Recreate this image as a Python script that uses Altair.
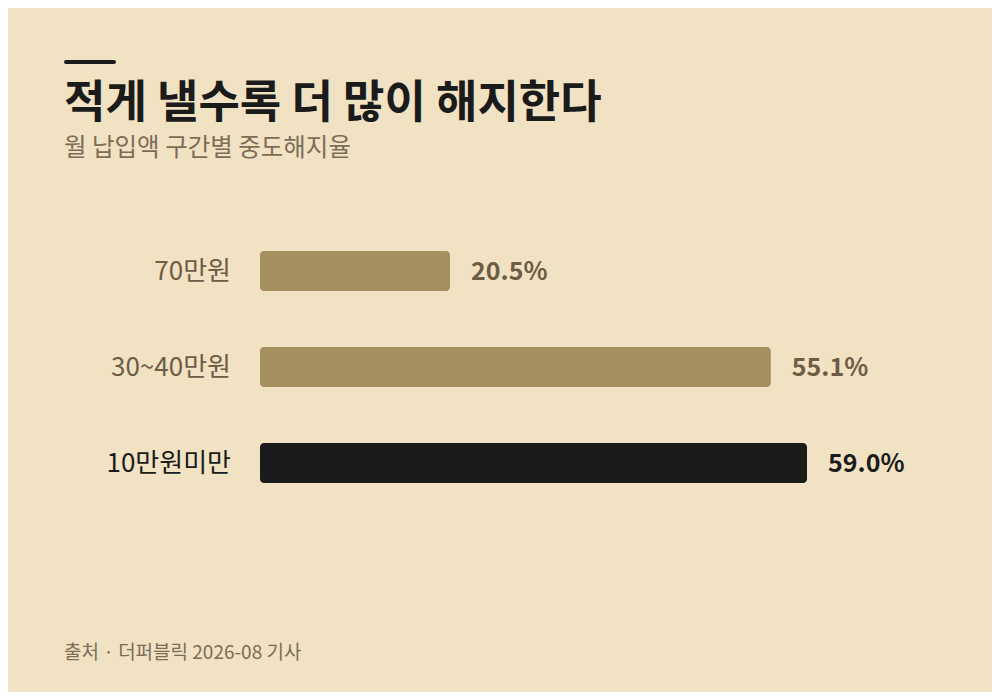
import altair as alt
import pandas as pd

# ---- data ----
categories = ["70만원", "30~40만원", "10만원미만"]
rates = [20.5, 55.1, 59.0]
highlight = [False, False, True]
value_labels = ["20.5%", "55.1%", "59.0%"]

title_text = "적게 낼수록 더 많이 해지한다"
subtitle_text = "월 납입액 구간별 중도해지율"
source_text = "출처 · 더퍼블릭 2026-08 기사"

BG = "#F1E2C3"
BAR = "#A68F5E"
DARK = "#1B1B1B"
MUTED = "#6E5C45"
SUB = "#7D6C56"
FONT = "Noto Sans CJK KR"

df = pd.DataFrame({
    "cat": categories,
    "rate": rates,
    "hl": highlight,
    "label": value_labels,
})
df["bar_color"] = [DARK if h else BAR for h in df["hl"]]
df["text_color"] = [DARK if h else MUTED for h in df["hl"]]

x_scale = alt.Scale(domain=[0, 70], range=[252, 901], nice=False, zero=True)
y_scale = alt.Scale(domain=categories, range=[215, 503], paddingInner=0, paddingOuter=0)

base = alt.Chart(df)

bars = base.mark_bar(height=40, cornerRadius=4).encode(
    x=alt.X("rate:Q", scale=x_scale, axis=None),
    y=alt.Y("cat:N", scale=y_scale, axis=None, sort=categories),
    color=alt.Color("bar_color:N", scale=None),
)

values = base.mark_text(align="left", baseline="middle", dx=21, dy=1, font=FONT,
                        fontSize=25, fontWeight="bold").encode(
    x=alt.X("rate:Q", scale=x_scale, axis=None),
    y=alt.Y("cat:N", scale=y_scale, axis=None, sort=categories),
    text="label:N",
    color=alt.Color("text_color:N", scale=None),
)

cat_labels = base.mark_text(align="right", baseline="middle", dy=1, font=FONT,
                            fontSize=26).encode(
    x=alt.value(223),
    y=alt.Y("cat:N", scale=y_scale, axis=None, sort=categories),
    text="cat:N",
    color=alt.Color("text_color:N", scale=None),
)

one = pd.DataFrame({"t": [title_text], "s": [subtitle_text], "src": [source_text]})

accent = alt.Chart(one).mark_rule(color=DARK, strokeWidth=4, strokeCap="round").encode(
    x=alt.value(58), x2=alt.value(106), y=alt.value(54)
)
title = alt.Chart(one).mark_text(align="left", baseline="alphabetic", font=FONT,
                                 fontSize=45, fontWeight="bold", color=DARK).encode(
    x=alt.value(56), y=alt.value(110), text="t:N"
)
subtitle = alt.Chart(one).mark_text(align="left", baseline="middle", font=FONT,
                                    fontSize=24.5, color=SUB).encode(
    x=alt.value(56), y=alt.value(141), text="s:N"
)
source = alt.Chart(one).mark_text(align="left", baseline="middle", font=FONT,
                                  fontSize=19, color=SUB).encode(
    x=alt.value(56), y=alt.value(645), text="src:N"
)

chart = alt.layer(bars, values, cat_labels, accent, title, subtitle, source).properties(
    width=984, height=684,
    autosize=alt.AutoSizeParams(type="none"),
    padding=0,
    background=BG,
).configure_view(stroke=None)

chart.save("out.html", embed_options={"renderer": "svg", "actions": False})
